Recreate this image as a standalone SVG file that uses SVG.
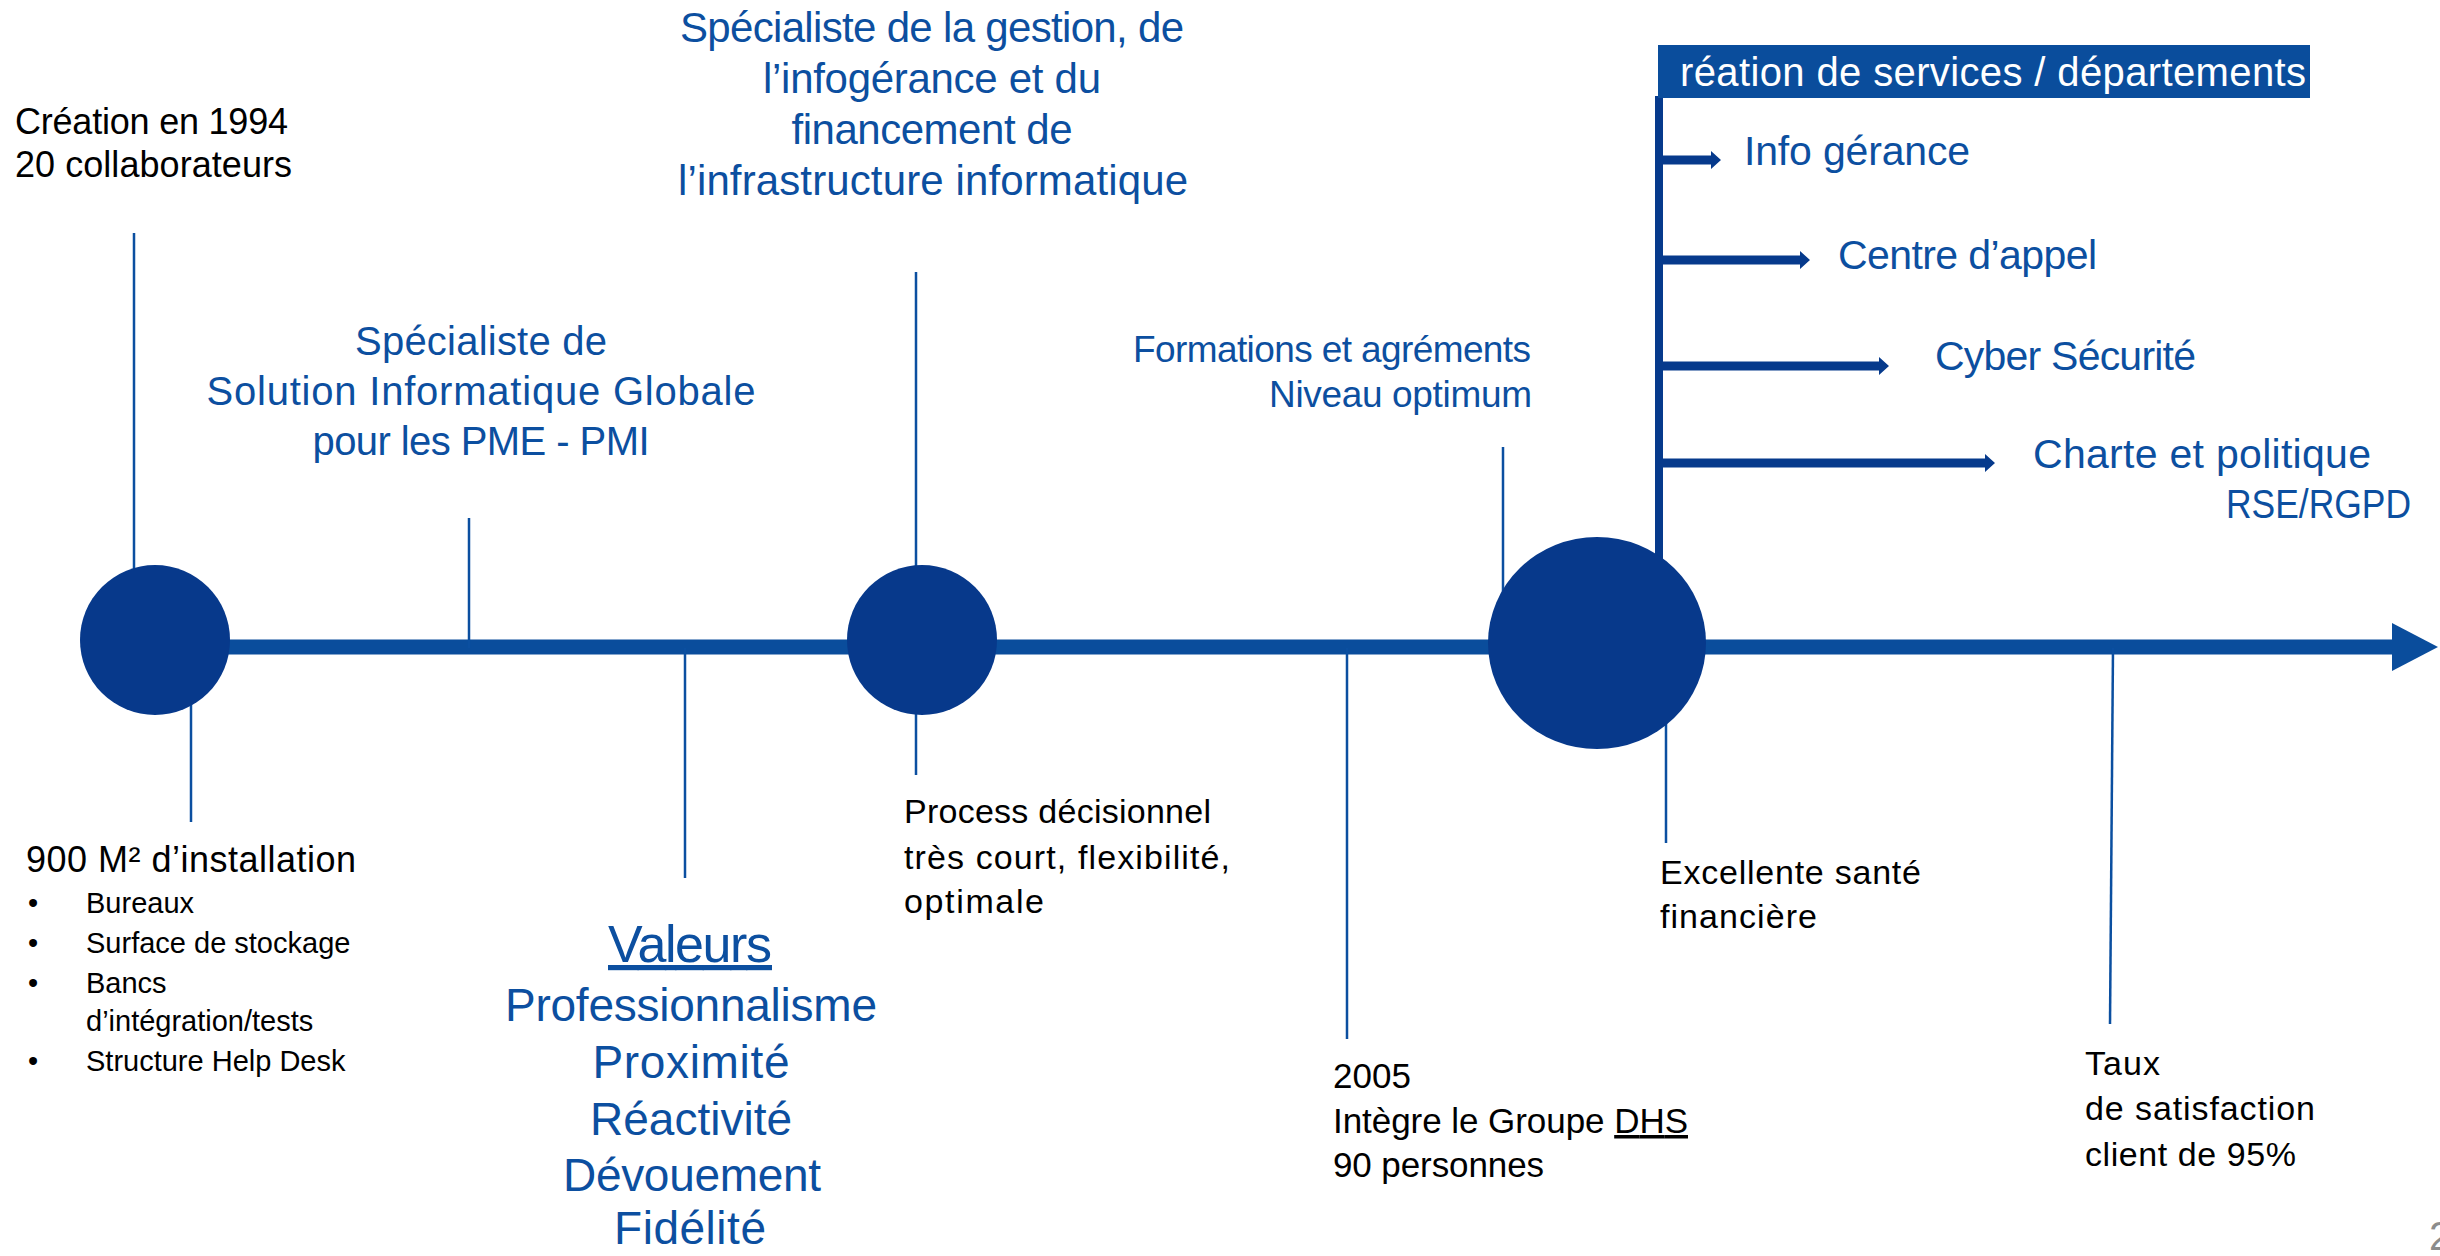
<svg xmlns="http://www.w3.org/2000/svg" width="2440" height="1256" viewBox="0 0 2440 1256">
<style>
.blk{font-family:"Liberation Sans",Arial,sans-serif;fill:#000}
.blu{font-family:"Liberation Sans",Arial,sans-serif;fill:#0c4fa0}
.thin{stroke:#0b4fa0;stroke-width:2.5;fill:none}
.dot{fill:#07398b}
.br{fill:#063a8c}
</style>
<rect width="2440" height="1256" fill="#fff"/>
<g id="connectors">
  <line x1="150" y1="647" x2="2396" y2="647" stroke="#0a4d9c" stroke-width="15"/>
  <polygon points="2392,623 2438,647 2392,671" fill="#0a4d9c"/>
  <line class="thin" x1="134" y1="233" x2="134" y2="580"/>
  <line class="thin" x1="191" y1="700" x2="191" y2="822"/>
  <line class="thin" x1="469" y1="518" x2="469" y2="648"/>
  <line class="thin" x1="685" y1="648" x2="685" y2="878"/>
  <line class="thin" x1="916" y1="272" x2="916" y2="580"/>
  <line class="thin" x1="916" y1="700" x2="916" y2="775"/>
  <line class="thin" x1="1347" y1="648" x2="1347" y2="1039"/>
  <line class="thin" x1="1503" y1="447" x2="1503" y2="600"/>
  <line class="thin" x1="1666" y1="720" x2="1666" y2="843"/>
  <line class="thin" x1="2113" y1="648" x2="2110" y2="1024"/>
  <rect class="br" x="1655" y="96" width="8" height="470"/>
  <polygon class="br" points="1663,155.5 1711,155.5 1711,151 1721,160 1711,169 1711,164.5 1663,164.5"/>
  <polygon class="br" points="1663,255.5 1800,255.5 1800,251 1810,260 1800,269 1800,264.5 1663,264.5"/>
  <polygon class="br" points="1663,361.5 1879,361.5 1879,357 1889,366 1879,375 1879,370.5 1663,370.5"/>
  <polygon class="br" points="1663,458.5 1985,458.5 1985,454 1995,463 1985,472 1985,467.5 1663,467.5"/>
</g>
<g id="node-1994">
  <circle class="dot" cx="155" cy="640" r="75"/>
  <text class="blk" x="15" y="134" font-size="36" textLength="273">Création en 1994</text>
  <text class="blk" x="15" y="177" font-size="36" textLength="277">20 collaborateurs</text>
</g>
<g id="node-installation">
  <text class="blk" x="26" y="872" font-size="36" textLength="330">900 M² d’installation</text>
  <text class="blk" font-size="29">
    <tspan x="28" y="913">•</tspan><tspan x="86" y="913">Bureaux</tspan>
    <tspan x="28" y="953">•</tspan><tspan x="86" y="953">Surface de stockage</tspan>
    <tspan x="28" y="993">•</tspan><tspan x="86" y="993">Bancs</tspan>
    <tspan x="86" y="1031">d’intégration/tests</tspan>
    <tspan x="28" y="1071">•</tspan><tspan x="86" y="1071">Structure Help Desk</tspan>
  </text>
</g>
<g id="node-specialiste-pme">
  <text class="blu" x="481" y="355" font-size="40" text-anchor="middle" textLength="252">Spécialiste de</text>
  <text class="blu" x="481" y="405" font-size="40" text-anchor="middle" textLength="549">Solution Informatique Globale</text>
  <text class="blu" x="481" y="455" font-size="40" text-anchor="middle" textLength="337">pour les PME - PMI</text>
</g>
<g id="node-valeurs">
  <text class="blu" x="690" y="962" font-size="52" text-anchor="middle" textLength="164" text-decoration="underline">Valeurs</text>
  <text class="blu" x="691" y="1021" font-size="46" text-anchor="middle" textLength="372">Professionnalisme</text>
  <text class="blu" x="691" y="1078" font-size="46" text-anchor="middle" textLength="197">Proximité</text>
  <text class="blu" x="691" y="1135" font-size="46" text-anchor="middle" textLength="202">Réactivité</text>
  <text class="blu" x="692" y="1191" font-size="46" text-anchor="middle" textLength="258">Dévouement</text>
  <text class="blu" x="690" y="1244" font-size="46" text-anchor="middle" textLength="152">Fidélité</text>
</g>
<g id="node-infogerance">
  <circle class="dot" cx="922" cy="640" r="75"/>
  <text class="blu" x="932" y="42" font-size="42" text-anchor="middle" textLength="504">Spécialiste de la gestion, de</text>
  <text class="blu" x="932" y="93" font-size="42" text-anchor="middle" textLength="338">l’infogérance et du</text>
  <text class="blu" x="932" y="144" font-size="42" text-anchor="middle" textLength="281">financement de</text>
  <text class="blu" x="933" y="195" font-size="42" text-anchor="middle" textLength="510">l’infrastructure informatique</text>
</g>
<g id="node-process">
  <text class="blk" x="904" y="823" font-size="34" textLength="307">Process décisionnel</text>
  <text class="blk" x="904" y="869" font-size="34" textLength="326">très court, flexibilité,</text>
  <text class="blk" x="904" y="913" font-size="34" textLength="140">optimale</text>
</g>
<g id="node-2005">
  <text class="blk" x="1333" y="1088" font-size="35" textLength="78">2005</text>
  <text class="blk" x="1333" y="1133" font-size="35" textLength="355">Intègre le Groupe <tspan text-decoration="underline">DHS</tspan></text>
  <text class="blk" x="1333" y="1177" font-size="35" textLength="211">90 personnes</text>
</g>
<g id="node-formations">
  <text class="blu" x="1531" y="362" font-size="37" text-anchor="end" textLength="398">Formations et agréments</text>
  <text class="blu" x="1532" y="407" font-size="37" text-anchor="end" textLength="263">Niveau optimum</text>
</g>
<g id="node-services">
  <ellipse class="dot" cx="1597" cy="643" rx="109" ry="106"/>
  <rect x="1658" y="45" width="652" height="53" fill="#0a4d9c"/>
  <text x="1680" y="86" font-size="40" fill="#fff" font-family="Liberation Sans, Arial, sans-serif" textLength="626">réation de services / départements</text>
  <text class="blu" x="1744" y="165" font-size="41" textLength="226">Info gérance</text>
  <text class="blu" x="1838" y="269" font-size="41" textLength="259">Centre d’appel</text>
  <text class="blu" x="1935" y="370" font-size="41" textLength="261">Cyber Sécurité</text>
  <text class="blu" x="2033" y="468" font-size="41" textLength="338">Charte et politique</text>
  <text class="blu" x="2411" y="518" font-size="41" text-anchor="end" textLength="185" lengthAdjust="spacingAndGlyphs">RSE/RGPD</text>
</g>
<g id="node-sante">
  <text class="blk" x="1660" y="884" font-size="34" textLength="261">Excellente santé</text>
  <text class="blk" x="1660" y="928" font-size="34" textLength="157">financière</text>
</g>
<g id="node-satisfaction">
  <text class="blk" x="2085" y="1075" font-size="34" textLength="75">Taux</text>
  <text class="blk" x="2085" y="1120" font-size="34" textLength="230">de satisfaction</text>
  <text class="blk" x="2085" y="1166" font-size="34" textLength="211">client de 95%</text>
</g>
<text x="2429" y="1250" font-size="40" fill="#8c8c8c" font-family="Liberation Sans, Arial, sans-serif">2</text>
</svg>
